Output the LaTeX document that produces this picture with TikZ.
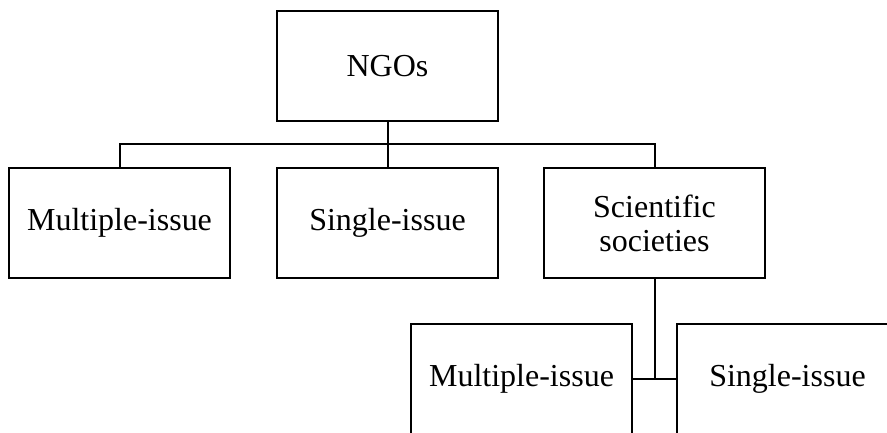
\documentclass[tikz,border=0pt]{standalone}
\usepackage{fontspec}
\setmainfont{Liberation Serif}
\begin{document}
\begin{tikzpicture}[x=1pt,y=-1pt,
  orgbox/.style={draw, line width=2pt, minimum width=221pt, minimum height=110pt, inner sep=0pt, align=center, font=\fontsize{32}{34}\selectfont},
  link/.style={line width=2pt}]
\useasboundingbox (0,0) rectangle (887,433);
\clip (0,0) rectangle (887,433);
\node[orgbox] (ngo) at (387.5,66) {NGOs};
\node[orgbox] (m1) at (119.5,223) {Multiple-issue};
\node[orgbox] (s1) at (387.5,223) {Single-issue};
\node[orgbox] (sci) at (654.5,223) {Scientific\\societies};
\node[orgbox] (m2) at (521.5,379) {Multiple-issue};
\node[orgbox] (s2) at (787.5,379) {Single-issue};
\coordinate (bus) at ([yshift=23pt]s1.north);
\draw[link] (ngo.south) -- (s1.north);
\draw[link] (m1.north) |- (bus) -| (sci.north);
\draw[link] (sci.south) -- (sci.south |- m2.east);
\draw[link] (m2.east) -- (s2.west);
\end{tikzpicture}
\end{document}
